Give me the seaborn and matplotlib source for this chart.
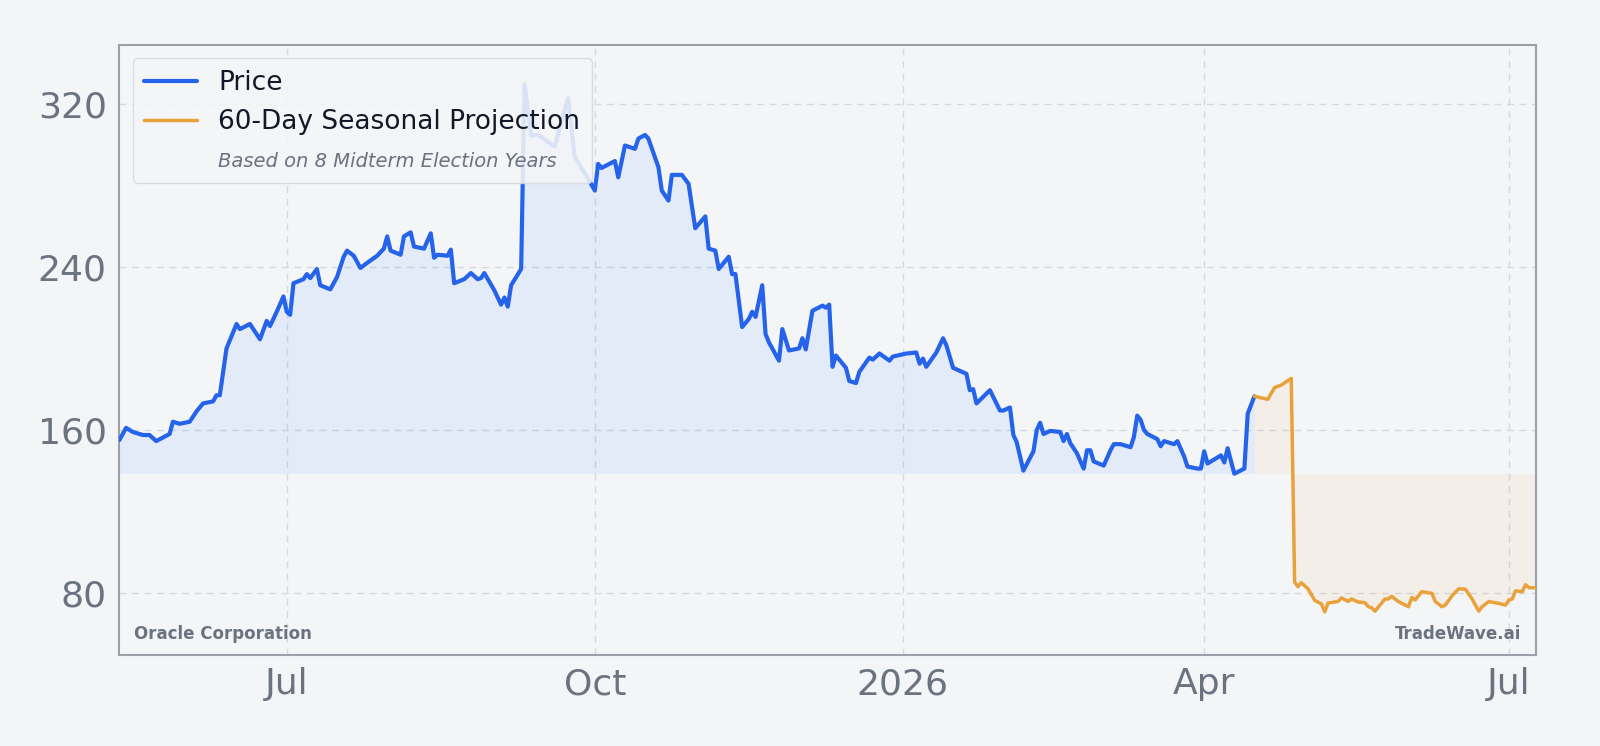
"""Oracle price with a 60-day midterm-year seasonal projection (TradeWave style)."""

import matplotlib
matplotlib.use("Agg")
import matplotlib.dates as mdates
import matplotlib.pyplot as plt
import numpy as np
import pandas as pd
import seaborn as sns
from matplotlib.lines import Line2D

# Data: days since 2025-05-12 and closing price.
START = pd.Timestamp("2025-05-12")
price_day = [
    0, 2, 4, 7, 9, 11, 15, 16, 18, 21, 23, 25, 28, 29, 30, 32, 35, 36, 39, 42,
    44, 45, 47, 49, 50, 51, 52, 55, 56, 57, 59, 60, 63, 65, 67, 68, 70, 72, 74, 77,
    79, 80, 81, 84, 85, 87, 88, 91, 93, 94, 95, 98, 99, 100, 103, 105, 107, 108, 109, 112,
    114, 115, 116, 117, 120, 121, 123, 125, 130, 134, 136, 140, 142, 143, 144, 148, 149, 151, 154, 155,
    157, 158, 161, 162, 164, 165, 168, 170, 172, 175, 176, 178, 179, 182, 183, 184, 186, 188, 189, 190,
    192, 193, 194, 197, 198, 200, 203, 204, 205, 207, 210, 211, 212, 213, 214, 217, 218, 220, 221, 224,
    225, 227, 230, 231, 235, 238, 239, 240, 241, 244, 246, 247, 249, 253, 254, 255, 256, 260, 263, 264,
    266, 267, 268, 270, 273, 274, 275, 276, 278, 281, 282, 283, 284, 286, 288, 289, 290, 291, 294, 296,
    297, 299, 302, 303, 304, 305, 306, 307, 310, 311, 312, 315, 316, 318, 319, 322, 323, 324, 325, 329,
    330, 331, 333, 336, 337, 339,
]
price = [
    155, 161, 159, 157.5, 157.5, 154.5, 158, 164, 163, 164, 169, 173, 174, 177, 177, 200, 212, 209.5, 212, 204.5,
    213.5, 211, 218, 225.5, 218, 216.5, 232, 234, 236.5, 234.5, 239, 231, 229, 235, 245, 248, 245.5, 239.5, 242, 245.5,
    249, 255, 248, 246, 255, 257, 250, 249, 256.5, 244.5, 246, 245.5, 248.5, 232, 234, 237, 234, 234.5, 237, 228.5,
    221.5, 225, 220.5, 231, 239, 329.8, 304.5, 305, 299, 322.8, 294, 283.3, 277.5, 290.6, 288.6, 292, 284, 299.6, 298, 303,
    304.8, 303, 289, 277.5, 272.6, 285.2, 285.2, 280.8, 259, 264.8, 249, 248, 239, 245, 236.5, 236.5, 210.5, 214.5, 218, 215.5,
    231, 207, 203, 194, 209.5, 199, 200, 205, 199.5, 218.5, 221, 220, 221.5, 191, 196.5, 190.5, 184, 183, 188.5, 195.5,
    194.5, 197.5, 194, 196, 197.5, 198, 192.5, 195, 191, 198, 205, 201.5, 190.5, 187.5, 179.5, 180, 173, 179.5, 169.5, 169.5,
    171, 157.5, 154, 140, 149.5, 160, 163.5, 158, 159.5, 159, 154.5, 158, 153.5, 148.5, 141, 150, 150, 144.5, 142.5, 150,
    153, 153, 151.5, 156.5, 167, 165, 160, 158, 155.5, 152, 154.5, 153, 154.5, 147, 142, 141, 141, 149.5, 143.5, 147.5,
    144, 151, 138.5, 141, 168, 176.5,
]
proj_day = [
    339, 343, 345, 347, 350, 351, 352, 353, 355, 357, 359, 360, 361, 364, 365, 367, 368, 370, 372, 373,
    374, 375, 378, 379, 380, 382, 385, 386, 387, 389, 391, 392, 393, 395, 396, 398, 400, 402, 404, 406,
    407, 409, 412, 414, 415, 416, 417, 419, 420, 421, 423,
]
projection = [
    176.5, 175, 180.8, 182, 185.3, 85.3, 83, 85, 82, 76.3, 74.6, 70.7, 75, 75.8, 77.5, 75.8, 77, 75.5, 75.2, 73.2,
    72.7, 71, 77, 77, 78.3, 75.7, 73.2, 77.7, 76.5, 80.6, 80, 79.8, 75.8, 73.2, 74, 78.5, 82, 81.8, 77, 71,
    73.2, 75.7, 74.8, 74, 76.5, 77, 81, 80.6, 84, 82.5, 82.5,
]

BG = "#F4F5F7"
BLUE = "#2563EB"
FILL_BLUE = "#60A5FA"
ORANGE = "#E9A23B"
GREY_TXT = "#6B7280"

df_price = pd.DataFrame({"date": START + pd.to_timedelta(price_day, unit="D"), "value": price})
df_proj = pd.DataFrame({"date": START + pd.to_timedelta(proj_day, unit="D"), "value": projection})
baseline = float(np.min(price))

sns.set_theme(style="whitegrid")
plt.rcParams["font.family"] = ["DejaVu Sans"]

fig = plt.figure(figsize=(16, 7.46), dpi=100, facecolor=BG)
ax = fig.add_axes([0.0746, 0.122, 0.8852, 0.8178])
ax.set_facecolor(BG)

# Area under each series, down to the lowest close.
ax.fill_between(df_price["date"], df_price["value"], baseline, color=FILL_BLUE, alpha=0.12, linewidth=0, zorder=1)
ax.fill_between(df_proj["date"], df_proj["value"], baseline, color=ORANGE, alpha=0.08, linewidth=0, zorder=1)
sns.lineplot(data=df_price, x="date", y="value", ax=ax, color=BLUE, linewidth=3, zorder=3)
sns.lineplot(data=df_proj, x="date", y="value", ax=ax, color=ORANGE, linewidth=2.5, zorder=3)

ax.set_xlim(df_price["date"].iloc[0], df_proj["date"].iloc[-1])
ax.set_ylim(49.5, 349)
ax.set_yticks([80, 160, 240, 320])
ax.set_xlabel("")
ax.set_ylabel("")


def _quarter_label(v, _):
    d = mdates.num2date(v)
    return d.strftime("%Y") if d.month == 1 else d.strftime("%b")


ax.xaxis.set_major_locator(mdates.MonthLocator(bymonth=[1, 4, 7, 10]))
ax.xaxis.set_major_formatter(plt.FuncFormatter(_quarter_label))
ax.tick_params(axis="both", labelsize=26, colors=GREY_TXT, length=4, width=1, pad=5)
ax.grid(True, color="#D5D9E0", linestyle=(0, (5, 4)), linewidth=1)
for sp in ax.spines.values():
    sp.set_color("#9CA0AB")
    sp.set_linewidth(1.5)

handles = [
    Line2D([], [], color=BLUE, linewidth=3, label="Price"),
    Line2D([], [], color=ORANGE, linewidth=2.5, label="60-Day Seasonal Projection"),
    Line2D([], [], color="none", label="Based on 8 Midterm Election Years"),
]
leg = ax.legend(handles=handles, loc="upper left", fontsize=19, frameon=True, framealpha=0.88,
                facecolor=BG, edgecolor="#D5D9E0", handlelength=2.0, handletextpad=0.8,
                labelspacing=0.5, borderaxespad=0.5, borderpad=0.45)
leg.set_zorder(5)
sub = leg.get_texts()[2]
sub.set_fontsize(14)
sub.set_style("italic")
sub.set_color(GREY_TXT)
for t in leg.get_texts()[:2]:
    t.set_color("#111827")

ax.text(0.01, 0.035, "Oracle Corporation", transform=ax.transAxes, ha="left", va="center",
        fontsize=12, fontweight="bold", color=GREY_TXT)
ax.text(0.99, 0.035, "TradeWave.ai", transform=ax.transAxes, ha="right", va="center",
        fontsize=12, fontweight="bold", color=GREY_TXT)

fig.savefig("out.png", dpi=100, facecolor=BG)
